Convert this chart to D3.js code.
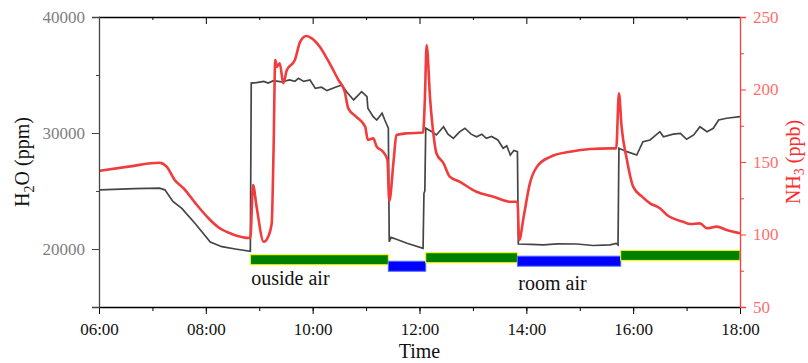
<html>
<head>
<script src="https://d3js.org/d3.v7.min.js"></script>
<style>
  body { margin: 0; background: #fff; }
  text { font-family: "Liberation Serif", "Times New Roman", serif; }
</style>
</head>
<body>
<svg id="chart" width="808" height="363"></svg>
<script>
// H2O (ppm), grey line, left axis
var h2oTime = ["06:01","06:40","07:08","07:14","07:23","07:33","07:48","08:05","08:18","08:33","08:50",
  "08:51","08:57","09:05","09:10","09:16","09:25","09:34","09:40","09:44","09:50","09:57","10:03","10:10",
  "10:16","10:27","10:33","10:38","10:46","10:55","11:01","11:02","11:08","11:12","11:18","11:21","11:25",
  "11:26","11:28","11:31","11:46","12:04","12:05","12:06","12:07","12:14","12:19","12:27","12:32","12:38",
  "12:45","12:51","12:58","13:04","13:10","13:15","13:21","13:28","13:34","13:38","13:42","13:46","13:50",
  "13:51","14:05","14:19","14:35","14:57","15:15","15:34","15:41","15:43","15:44","15:53","16:04","16:11",
  "16:19","16:30","16:34","16:45","16:53","17:00","17:08","17:15","17:23","17:30","17:36","17:45","18:00"]
var h2oPpm = [25100,25200,25250,25100,24100,23500,22200,20600,20200,20000,19800,
  34300,34340,34450,34300,34510,34400,34570,34450,34720,34450,34570,33850,33950,
  33650,33990,34140,33560,32850,33560,33130,32130,31410,31120,31700,31120,30410,
  20630,21000,20920,20490,20060,24800,25000,30410,30110,29830,30540,29900,29540,
  30100,30410,29900,29680,29900,29540,29700,29400,28680,28900,28100,28500,28390,
  20430,20400,20350,20450,20430,20300,20350,20490,20350,28680,28390,28100,29250,
  29400,30110,29680,29900,29970,29460,29830,30540,30110,30410,31120,31270,31410]

// NH3 (ppb), red line, right axis
var nh3Time = ["06:01","06:33","07:08","07:16","07:25","07:35","07:48","08:03","08:14","08:29","08:50",
  "08:53","08:57","09:05","09:10","09:14","09:16","09:18","09:20","09:23","09:27","09:31","09:40","09:46",
  "09:53","09:59","10:08","10:18","10:29","10:36","10:40","10:49","10:59","11:02","11:08","11:12","11:19",
  "11:24","11:26","11:31","11:34","11:46","12:04","12:06","12:08","12:12","12:16","12:19","12:27","12:34",
  "12:45","13:04","13:23","13:42","13:50","13:52","13:57","14:04","14:12","14:27","14:49","15:12","15:34",
  "15:41","15:44","15:47","15:53","16:00","16:10","16:19","16:30","16:38","16:56","17:04","17:15","17:23",
  "17:34","17:45","18:00"]
var nh3Ppb = [144.0,146.8,149.5,146.8,137.6,131.9,121.8,111.2,105.0,100.4,97.6,
  134.1,119.2,95.0,98.5,107.7,156.0,220.3,215.7,218.1,204.3,213.4,220.3,233.0,
  236.9,235.3,229.5,219.2,206.5,198.5,187.0,181.2,174.3,165.2,166.3,160.5,157.1,
  151.4,123.0,151.4,168.6,169.8,170.3,192.8,230.7,192.8,167.4,156.0,149.1,139.9,
  136.4,129.5,126.1,122.6,122.6,96.2,112.3,135.3,146.8,153.6,157.1,159.0,159.4,
  159.4,197.4,174.3,151.4,133.0,126.1,121.5,118.1,113.4,108.8,107.2,107.7,104.3,
  105.4,103.1,100.8]

// air source segments (level read on the NH3 axis)
var segStart = ["08:50","11:25","12:07","13:50","15:46"]
var segEnd   = ["11:25","12:07","13:50","15:46","18:00"]
var segKind  = ["outside","room","outside","room","outside"]
var segLevel = [82.6,78.1,84.0,81.6,85.6]

var segLabels = ["ouside air","room air"]
var segLabelAt = ["08:51","13:51"]

var xTicks = ["06:00","08:00","10:00","12:00","14:00","16:00","18:00"]
var h2oTicks = [20000,30000,40000]
var nh3Ticks = [50,100,150,200,250]

const mLeft = 99, mRight = 740, mTop = 17, mBottom = 307
const serif = '"Liberation Serif", "Times New Roman", serif'
var parse = d3.timeParse("%H:%M")
var svg = d3.select("#chart")

var x = d3.scaleTime().domain([parse("06:00"), parse("18:00")]).range([mLeft, mRight])
var yL = d3.scaleLinear().domain([15000, 40000]).range([mBottom, mTop])
var yR = d3.scaleLinear().domain([50, 250]).range([mBottom, mTop])

// segments
var segs = segStart.map(function(s, i){ return {s: parse(s), e: parse(segEnd[i]), k: segKind[i], v: segLevel[i]} })
svg.append("g").selectAll("rect").data(segs).enter().append("rect")
  .attr("x", function(d){ return x(d.s) })
  .attr("width", function(d){ return x(d.e) - x(d.s) })
  .attr("y", function(d){ return yR(d.v) - 5 })
  .attr("height", 10)
  .style("fill", function(d){ return d.k == "outside" ? "#008000" : "#0000ff" })
  .style("stroke", function(d){ return d.k == "outside" ? "#ffff00" : "#4d6dff" })
  .style("stroke-width", 1)

svg.append("g").selectAll("text").data(segLabels).enter().append("text")
  .attr("x", function(d, i){ return x(parse(segLabelAt[i])) })
  .attr("y", function(d, i){ return i == 0 ? 285 : 290 })
  .style("font-size", "20px").style("fill", "#111")
  .text(function(d){ return d })

// lines
var h2o = h2oTime.map(function(t, i){ return [parse(t), h2oPpm[i]] })
var nh3 = nh3Time.map(function(t, i){ return [parse(t), nh3Ppb[i]] })

svg.append("path").datum(h2o)
  .attr("d", d3.line().x(function(d){ return x(d[0]) }).y(function(d){ return yL(d[1]) }))
  .style("fill", "none").style("stroke", "#454545").style("stroke-width", 1.7)

svg.append("path").datum(nh3)
  .attr("d", d3.line().curve(d3.curveMonotoneX).x(function(d){ return x(d[0]) }).y(function(d){ return yR(d[1]) }))
  .style("fill", "none").style("stroke", "#f03c3c").style("stroke-width", 2.6)

// bottom axis
var xMinor = svg.append("g").attr("transform", "translate(0," + mBottom + ")")
  .call(d3.axisBottom(x).ticks(d3.timeHour.every(1)).tickSize(4).tickFormat(""))
xMinor.select(".domain").remove()
xMinor.selectAll("line").style("stroke", "#000")
var xAx = svg.append("g").attr("transform", "translate(0," + mBottom + ")")
  .call(d3.axisBottom(x).tickValues(xTicks.map(parse)).tickSize(7).tickPadding(9)
    .tickFormat(d3.timeFormat("%H:%M")))
  .attr("font-family", serif).attr("font-size", 17)
xAx.select(".domain").attr("d", "M" + mLeft + ",0.5H" + mRight).style("stroke", "#000").style("stroke-width", 1.3)
xAx.selectAll("line").style("stroke", "#000")
xAx.selectAll("text").style("fill", "#111")

// top frame with inward ticks
var xTop = svg.append("g").attr("transform", "translate(0," + mTop + ")")
  .call(d3.axisBottom(x).ticks(d3.timeHour.every(1)).tickSize(3).tickFormat(""))
xTop.select(".domain").attr("d", "M" + mLeft + ",0.5H" + mRight).style("stroke", "#000").style("stroke-width", 1.3)
xTop.selectAll(".tick line").style("stroke", "#000")
  .attr("y2", function(d){ return d.getHours() % 2 == 0 ? 7 : 3 })

// left axis
var yLMinor = svg.append("g").attr("transform", "translate(" + mLeft + ",0)")
  .call(d3.axisLeft(yL).tickValues([15000, 25000, 35000]).tickSize(3).tickFormat(""))
yLMinor.select(".domain").remove()
yLMinor.selectAll("line").style("stroke", "#444")
var yLAx = svg.append("g").attr("transform", "translate(" + mLeft + ",0)")
  .call(d3.axisLeft(yL).tickValues(h2oTicks).tickSize(7).tickPadding(7).tickFormat(d3.format("d")))
  .attr("font-family", serif).attr("font-size", 17)
yLAx.select(".domain").style("stroke", "#444").style("stroke-width", 1.3)
yLAx.selectAll("line").style("stroke", "#444")
yLAx.selectAll("text").style("fill", "#808080")

// right axis
var yRMinor = svg.append("g").attr("transform", "translate(" + mRight + ",0)")
  .call(d3.axisRight(yR).tickValues([75, 125, 175, 225]).tickSize(4).tickFormat(""))
yRMinor.select(".domain").remove()
yRMinor.selectAll("line").style("stroke", "#ff3b3b")
var yRAx = svg.append("g").attr("transform", "translate(" + mRight + ",0)")
  .call(d3.axisRight(yR).tickValues(nh3Ticks).tickSize(6).tickPadding(7))
  .attr("font-family", serif).attr("font-size", 17)
yRAx.select(".domain").style("stroke", "#ff3b3b").style("stroke-width", 1.3)
yRAx.selectAll("line").style("stroke", "#ff3b3b")
yRAx.selectAll("text").style("fill", "#ff6e6e")

// titles
svg.append("text").attr("x", (mLeft + mRight) / 2).attr("y", 358)
  .attr("text-anchor", "middle").style("font-size", "20px").style("fill", "#111").text("Time")

var tl = svg.append("text").attr("transform", "translate(29," + (mTop + mBottom) / 2 + ") rotate(-90)")
  .attr("text-anchor", "middle").style("font-size", "20px").style("fill", "#111")
tl.append("tspan").text("H")
tl.append("tspan").attr("dy", 5).style("font-size", "14px").text("2")
tl.append("tspan").attr("dy", -5).text("O (ppm)")

var tr = svg.append("text").attr("transform", "translate(800," + (mTop + mBottom) / 2 + ") rotate(-90)")
  .attr("text-anchor", "middle").style("font-size", "20px").style("fill", "#ff2a2a")
tr.append("tspan").text("NH")
tr.append("tspan").attr("dy", 4).style("font-size", "14px").text("3")
tr.append("tspan").attr("dy", -4).text(" (ppb)")
</script>
</body>
</html>
